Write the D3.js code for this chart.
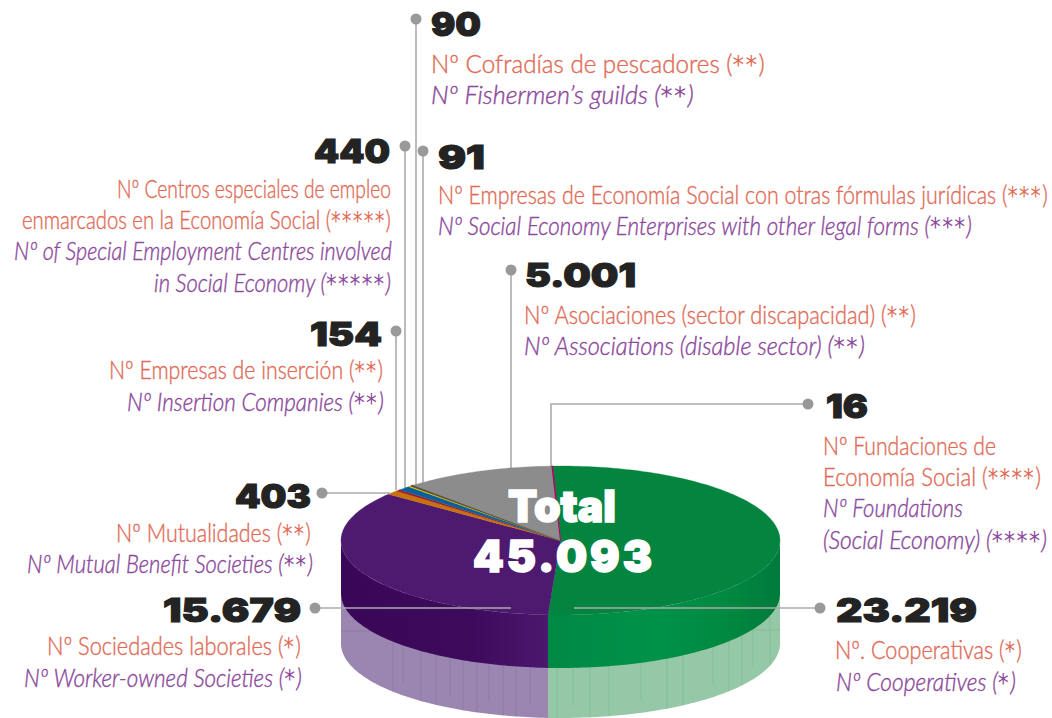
<!DOCTYPE html>
<html>
<head>
<meta charset="utf-8">
<script src="https://d3js.org/d3.v7.min.js"></script>
<style>
  html, body { margin: 0; background: #fff; }
  svg { display: block; }
</style>
</head>
<body>
<svg id="chart" width="1052" height="718"></svg>
<script>
// ── Data ──────────────────────────────────────────────
const values = [23219, 15679, 403, 154, 440, 90, 91, 5001, 16];
const total = 45093;
const totalLabel = 'Total';

const labelsEs = [
  ['Nº. Cooperativas (*)'],
  ['Nº Sociedades laborales (*)'],
  ['Nº Mutualidades (**)'],
  ['Nº Empresas de inserción (**)'],
  ['Nº Centros especiales de empleo', 'enmarcados en la Economía Social (*****)'],
  ['Nº Cofradías de pescadores (**)'],
  ['Nº Empresas de Economía Social con otras fórmulas jurídicas (***)'],
  ['Nº Asociaciones (sector discapacidad) (**)'],
  ['Nº Fundaciones de', 'Economía Social (****)']
];
const labelsEn = [
  ['Nº Cooperatives (*)'],
  ['Nº Worker-owned Societies (*)'],
  ['Nº Mutual Benefit Societies (**)'],
  ['Nº Insertion Companies (**)'],
  ['Nº of Special Employment Centres involved', 'in Social Economy (*****)'],
  ['Nº Fishermen’s guilds (**)'],
  ['Nº Social Economy Enterprises with other legal forms (***)'],
  ['Nº Associations (disable sector) (**)'],
  ['Nº Foundations', '(Social Economy) (****)']
];

// ── Colours ───────────────────────────────────────────
const topColors = ['#03853f', '#4e1a70', '#c8710e', '#a01c22', '#0b5f9e', '#d4c410', '#5a4a3a', '#8c8c8c', '#b5006a'];
const SALMON = '#e06c58';
const VIOLET = '#8c4a9c';
const INK = '#232323';
const LEADER = '#ababab';
const DOT = '#999';

// ── Layout (measured on the page) ─────────────────────
// num: [x, baseline, width]   es/en: [x, baseline, width] per line
const layout = [
  { num: [836, 622, 141], es: [[835, 659, 187]], en: [[836, 691, 180]],
    leader: [[574, 608], [820, 608]], front: true },
  { num: [163, 622, 138], es: [[47, 655, 254]], en: [[24, 687, 278]],
    leader: [[511, 608], [315, 608]], front: true },
  { num: [235, 508, 76], es: [[116, 542, 195]], en: [[27, 573, 286]],
    leader: [[390, 493], [322, 493]] },
  { num: [310, 346, 72], es: [[109, 379, 274]], en: [[127, 411, 257]],
    leader: [[396, 490], [396, 331]] },
  { num: [314, 163, 76], es: [[117, 198, 274], [22, 229, 369]], en: [[14, 260, 378], [154, 292, 237]],
    leader: [[405, 488], [405, 146]] },
  { num: [431, 36, 50], es: [[431, 73, 334]], en: [[431, 104, 263]],
    leader: [[416, 486], [416, 19]] },
  { num: [438, 169, 47], es: [[438, 204, 610]], en: [[438, 235, 534]],
    leader: [[423, 486], [423, 151]] },
  { num: [525, 287, 111], es: [[524, 324, 392]], en: [[524, 355, 341]],
    leader: [[511, 470], [511, 270]] },
  { num: [826, 418, 42], es: [[823, 455, 173], [823, 486, 218]], en: [[823, 517, 140], [823, 549, 224]],
    leader: [[551, 467], [551, 404], [808, 404]] }
];

const cx = 560.5, cy = 540.5, rx = 219.5, ry = 74.5;
const wallDepth = 53, paleDepth = 50;

// seams of the lower band, by x position
const seamsPurple = [393, 403, 421, 436, 450, 463, 477, 489, 503, 516, 530];
const seamsGreen = [557, 573, 590, 609, 641, 667, 683, 713, 729, 742, 753, 770];

const svg = d3.select('#chart');
const numFmt = d3.formatLocale({ decimal: ',', thousands: '.', grouping: [3], currency: ['', ''] }).format(',');

// ── Pie projected on an ellipse ───────────────────────
const x = d3.scaleLinear().domain([-1, 1]).range([cx - rx, cx + rx]);
const y = d3.scaleLinear().domain([-1, 1]).range([cy - ry, cy + ry]);
const px = a => x(Math.sin(a));
const py = a => y(-Math.cos(a));

const startA = -2.1 * Math.PI / 180;
const arcs = d3.pie().sort(null).startAngle(startA).endAngle(startA + 2 * Math.PI)(values);

const samples = (a0, a1) => {
  const n = Math.max(2, Math.ceil(Math.abs(a1 - a0) / 0.02));
  return d3.range(n + 1).map(i => a0 + (a1 - a0) * i / n);
};

// Gradients for the walls
const defs = svg.append('defs');
function gradient(id, stops) {
  const g = defs.append('linearGradient').attr('id', id)
    .attr('gradientUnits', 'userSpaceOnUse')
    .attr('x1', cx - rx).attr('x2', cx + rx).attr('y1', 0).attr('y2', 0);
  stops.forEach(([o, c]) => g.append('stop').attr('offset', o).attr('stop-color', c));
}
gradient('wallPurple', [[0, '#3a0758'], [0.3, '#3d0a5c'], [0.5, '#4e1a70'], [1, '#4e1a70']]);
gradient('wallGreen', [[0, '#008a45'], [0.5, '#008a45'], [0.72, '#009249'], [0.9, '#00873f'], [1, '#007a3c']]);

// ── Leader lines behind the pie ───────────────────────
const leaderLine = d3.line();
function drawLeader(g, d) {
  g.append('path').attr('d', leaderLine(d.leader)).attr('fill', 'none')
    .attr('stroke', LEADER).attr('stroke-width', 1.6);
  const end = d.leader[d.leader.length - 1];
  g.append('circle').attr('cx', end[0]).attr('cy', end[1]).attr('r', 5.5).attr('fill', DOT);
}
const back = svg.append('g');
layout.filter(d => !d.front).forEach(d => drawLeader(back, d));

// ── Walls: only the two big front slices are visible ──
const wallFront = [
  { arc: arcs[0], fill: 'url(#wallGreen)', pale: '#95c8a6', line: '#82ba96', seams: seamsGreen },
  { arc: arcs[1], fill: 'url(#wallPurple)', pale: '#9b86b2', line: '#8c76a6', seams: seamsPurple }
];
const wallArea = (top, bottom) => d3.area().x(px).y0(a => py(a) + top).y1(a => py(a) + bottom);
const rimY = sx => { const s = (sx - cx) / rx; return cy + ry * Math.sqrt(1 - s * s); };

const pale = svg.append('g');
const wall = svg.append('g');
wallFront.forEach(w => {
  const a0 = Math.max(w.arc.startAngle, Math.PI / 2);
  const a1 = Math.min(w.arc.endAngle, 3 * Math.PI / 2);
  const pts = samples(a0, a1);
  pale.append('path').attr('d', wallArea(wallDepth - 1, wallDepth + paleDepth)(pts)).attr('fill', w.pale);
  pale.selectAll(null).data(w.seams).join('line')
    .attr('x1', d => d).attr('x2', d => d)
    .attr('y1', d => rimY(d) + wallDepth)
    .attr('y2', (d, i) => rimY(d) + wallDepth + paleDepth * (i % 3 === 1 ? 0.75 : 1))
    .attr('stroke', w.line).attr('stroke-width', 0.8);
  wall.append('path').attr('d', wallArea(0, wallDepth)(pts)).attr('fill', w.fill);
});
// faint back edge showing through the lower band
pale.append('line').attr('x1', 341).attr('x2', 398).attr('y1', 631).attr('y2', 631).attr('stroke', '#8c76a6').attr('stroke-width', 0.8);
pale.append('line').attr('x1', 745).attr('x2', 780).attr('y1', 630).attr('y2', 630).attr('stroke', '#82ba96').attr('stroke-width', 0.8);

// ── Top face ──────────────────────────────────────────
const face = d3.line();
svg.append('g').selectAll('path').data(arcs).join('path')
  .attr('d', d => face([[cx, cy], ...samples(d.startAngle, d.endAngle).map(a => [px(a), py(a)])]) + 'Z')
  .attr('fill', (d, i) => topColors[i])
  .attr('stroke', (d, i) => topColors[i])
  .attr('stroke-width', d => d.value < 100 ? 1.1 : 0.3)
  .attr('stroke-linejoin', 'round');

// squeeze a text to its measured width
function fit(t, pos) {
  const w = t.node().getComputedTextLength();
  t.attr('transform', `translate(${pos[0]},${pos[1]}) scale(${pos[2] / w},1)`);
  return t;
}

// ── Centre total ──────────────────────────────────────
const heavy = "Inter, 'DejaVu Sans', sans-serif";
const center = svg.append('g').attr('fill', '#fff').attr('stroke', '#fff').attr('stroke-width', 1.6)
  .attr('font-family', heavy).attr('font-weight', 900).attr('font-size', 44);
fit(center.append('text').text(totalLabel), [508, 522, 108]);
fit(center.append('text').attr('letter-spacing', 3).text(numFmt(total)), [473, 572, 182]);

// ── Front leaders and labels ──────────────────────────
const front = svg.append('g');
layout.filter(d => d.front).forEach(d => drawLeader(front, d));

const labels = svg.append('g').attr('font-family', "Lato, 'Open Sans', sans-serif");
function textLine(pos, str, color, italic) {
  const t = labels.append('text')
    .attr('font-size', 25).attr('font-weight', 300)
    .attr('font-style', italic ? 'italic' : 'normal')
    .attr('fill', color).attr('stroke', color).attr('stroke-width', 0.4);
  // asterisks are bigger in the original, DejaVu has the closer shape
  str.split(/(\*+)/).forEach(part => {
    if (!part) return;
    const star = part[0] === '*';
    t.append('tspan')
      .attr('font-family', star ? "'DejaVu Sans', sans-serif" : null)
      .attr('font-size', star ? 24 : null)
      .attr('font-weight', star ? 400 : null)
      .attr('stroke-width', star ? 0 : null)
      .attr('letter-spacing', star ? 1.5 : null)
      .text(part);
  });
  fit(t, pos);
}
layout.forEach((d, i) => {
  const t = labels.append('text')
    .attr('font-family', heavy).attr('font-weight', 900).attr('font-size', 33)
    .attr('fill', INK).attr('stroke', INK).attr('stroke-width', 1.1)
    .text(numFmt(values[i]));
  fit(t, d.num);
  d.es.forEach((p, j) => textLine(p, labelsEs[i][j], SALMON, false));
  d.en.forEach((p, j) => textLine(p, labelsEn[i][j], VIOLET, true));
});
</script>
</body>
</html>
